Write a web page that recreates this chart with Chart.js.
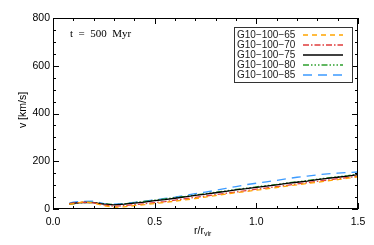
<!DOCTYPE html>
<html><head><meta charset="utf-8">
<script src="https://cdn.jsdelivr.net/npm/chart.js@4/dist/chart.umd.min.js"></script>
<style>html,body{margin:0;padding:0;background:#fff}#wrap{width:374px;height:245px}</style>
</head><body><div id="wrap"><canvas id="c" width="374" height="245"></canvas></div>
<script>
const radius = [0.08,0.10,0.15,0.20,0.25,0.30,0.35,0.40,0.45,0.50,0.55,0.60,0.65,0.70,0.75,0.80,0.85,0.90,0.95,1.00,1.05,1.10,1.15,1.20,1.25,1.30,1.35,1.40,1.45,1.50];
const v65 = [20,22,30,25,14,7,9,14,18,23,27,33,38,44,50,56,62,68,73,79,84,90,96,101,107,112,118,123,129,135];
const v70 = [22,25,28,26,17,12,14,18,22,27,31,37,43,49,54,60,66,71,77,83,88,94,99,105,110,116,121,127,132,138];
const v75 = [22,24,28,27,20,17,20,25,29,35,39,45,51,57,62,68,74,80,85,91,96,101,107,112,117,123,128,133,138,144];
const v80 = [20,22,27,28,22,18,21,27,32,37,42,48,53,59,64,70,76,82,87,93,98,103,109,114,119,125,130,135,140,146];
const v85 = [25,29,32,33,22,20,23,28,33,38,44,50,57,64,71,78,86,94,102,108,114,120,127,133,138,143,147,150,153,155];
const seriesNames = ['G10\u2212100\u221265','G10\u2212100\u221270','G10\u2212100\u221275','G10\u2212100\u221280','G10\u2212100\u221285'];
const xTicks = [0, 0.5, 1.0, 1.5];
const yTicks = [0, 200, 400, 600, 800];

const colors = ['#FFA500','#E03C3C','#000000','#2EA02E','#3C9BFF'];
const dashes = [[5,4],[6,2,1.5,2],[],[6,2,1.5,2,1.5,2,1.5,2],[9,6]];
const vals = [v65,v70,v75,v80,v85];

const datasets = vals.map((arr,i)=>({
  label: seriesNames[i],
  data: arr.map((v,j)=>({x:radius[j], y:v})),
  borderColor: colors[i], borderDash: dashes[i], borderWidth: 1.3,
  pointRadius: 0, fill:false, tension:0
}));

const FONT = '"Liberation Sans", Arial, sans-serif';

const deco = {
  id:'deco',
  afterDraw(chart){
    const ctx = chart.ctx, a = chart.chartArea;
    const xs = chart.scales.x, ys = chart.scales.y;
    ctx.save();
    ctx.strokeStyle='#000'; ctx.lineWidth=1;
    ctx.strokeRect(a.left+0.5, a.top+0.5, a.right-a.left-1, a.bottom-a.top-1);
    for(let k=0;k<=15;k++){
      const v=k/10, px=Math.round(xs.getPixelForValue(v))+0.5;
      const L = (k%5===0)?6:3;
      ctx.beginPath(); ctx.moveTo(px,a.bottom); ctx.lineTo(px,a.bottom-L);
      ctx.moveTo(px,a.top); ctx.lineTo(px,a.top+L); ctx.stroke();
    }
    for(let k=0;k<=16;k++){
      const v=k*50, py=Math.round(ys.getPixelForValue(v))+0.5;
      const L = (k%4===0)?6:3;
      ctx.beginPath(); ctx.moveTo(a.left,py); ctx.lineTo(a.left+L,py);
      ctx.moveTo(a.right,py); ctx.lineTo(a.right-L,py); ctx.stroke();
    }
    ctx.fillStyle='#000';
    ctx.font = '11px "Liberation Serif", serif';
    ctx.textBaseline='middle'; ctx.textAlign='left';
    ctx.fillText('t  =  500  Myr', 70, 34);
    ctx.save();
    ctx.translate(23, 110); ctx.rotate(-Math.PI/2);
    ctx.font = '10.5px ' + FONT; ctx.textAlign='center'; ctx.textBaseline='middle';
    ctx.fillText('v [km/s]', 0, 0);
    ctx.restore();
    ctx.font = '10.5px ' + FONT; ctx.textAlign='left'; ctx.textBaseline='middle';
    const base = 'r/r';
    const w = ctx.measureText(base).width;
    ctx.fillText(base, 194, 231);
    ctx.font = '7px ' + FONT;
    ctx.fillText('vir', 194+w, 234);
    // legend
    const lx=234, ly=27, lw=118, lh=55;
    ctx.fillStyle='#fff'; ctx.fillRect(lx,ly,lw,lh);
    ctx.strokeStyle='#333'; ctx.lineWidth=1;
    ctx.strokeRect(lx+0.5,ly+0.5,lw,lh);
    ctx.font = '10px ' + FONT; ctx.textBaseline='middle';
    for(let i=0;i<seriesNames.length;i++){
      const y = 35 + i*10;
      ctx.fillStyle='#222';
      ctx.fillText(seriesNames[i], 237, y);
      ctx.save();
      ctx.strokeStyle=colors[i];
      ctx.setLineDash(dashes[i]);
      ctx.lineWidth=1.6;
      ctx.beginPath(); ctx.moveTo(303,y); ctx.lineTo(343,y); ctx.stroke();
      ctx.restore();
    }
    ctx.restore();
  }
};

new Chart(document.getElementById('c'), {
  type:'line',
  data:{datasets},
  options:{
    responsive:false, animation:false, devicePixelRatio:1,
    layout:{padding:{left:0,right:16,top:18,bottom:0}},
    plugins:{legend:{display:false}, tooltip:{enabled:false}},
    scales:{
      x:{type:'linear', min:0, max:1.5,
        afterBuildTicks(s){ s.ticks = xTicks.map(v=>({value:v})); },
        afterFit(s){ s.height = 36; },
        grid:{display:false, drawTicks:false}, border:{display:false},
        ticks:{padding:7, color:'#000', font:{family:FONT, size:10.5}, maxRotation:0,
          callback:(v)=>Number(v).toFixed(1)}},
      y:{type:'linear', min:0, max:800,
        afterBuildTicks(s){ s.ticks = yTicks.map(v=>({value:v})); },
        afterFit(s){ s.width = 53; },
        grid:{display:false, drawTicks:false}, border:{display:false},
        ticks:{padding:3, color:'#000', font:{family:FONT, size:10.5},
          callback:(v)=>String(v)}}
    }
  },
  plugins:[deco]
});
</script></body></html>
